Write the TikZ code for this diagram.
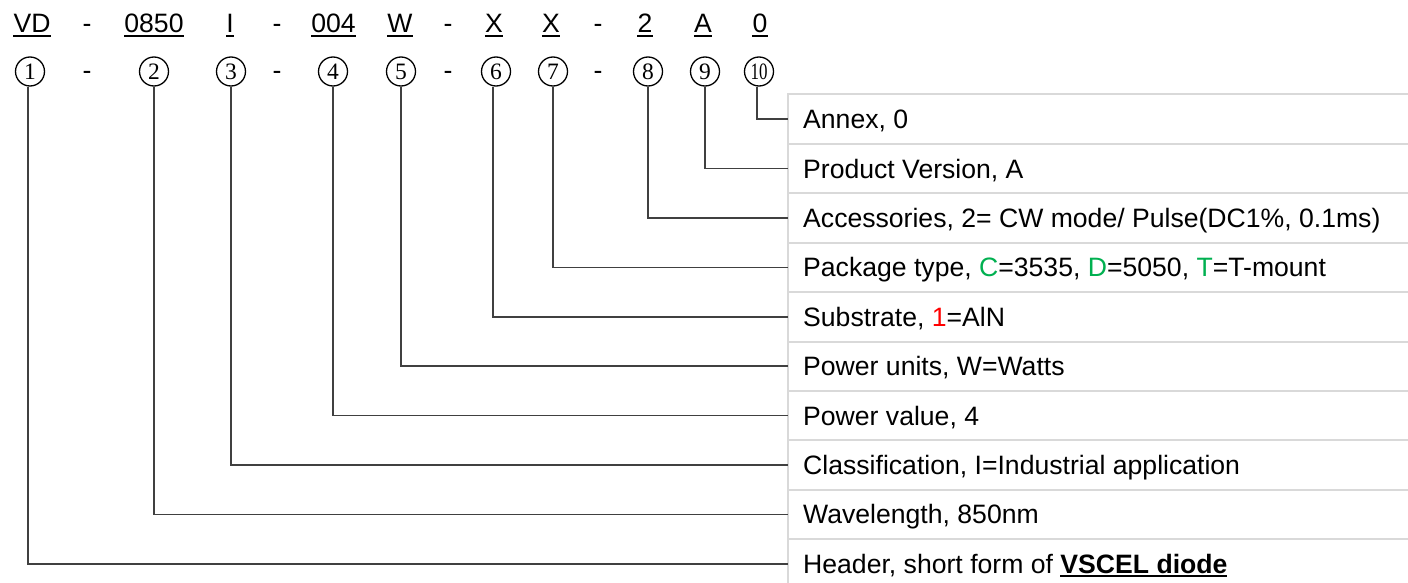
\documentclass[tikz,border=0pt]{standalone}
\usepackage{fontspec}
\newfontfamily\arialfont{Liberation Sans}
\newfontfamily\circfont{Liberation Serif}
\newcommand{\myulbox}[1]{\setbox0=\hbox{#1}\rlap{\vrule height -1.8pt depth 3.8pt width \wd0}\box0}
\definecolor{pkggreen}{HTML}{00B050}
\definecolor{gridgrey}{HTML}{D9D9D9}
\definecolor{leadergrey}{HTML}{404040}
\begin{document}
\begin{tikzpicture}[x=1pt,y=-1pt,
  txt/.style={font=\arialfont\fontsize{26.6}{30}\selectfont},
  code/.style={txt, inner sep=0pt, anchor=base},
  ulline/.style={draw=black, line width=2pt},
  numcirc/.style={circle, draw=black, line width=1.3pt, minimum size=29pt, inner sep=0pt,
                  font=\circfont\fontsize{23.5}{26}\selectfont},
  rowtext/.style={txt, anchor=west, inner xsep=15pt, inner ysep=0pt, text height=25pt, text depth=6pt},
  gridline/.style={draw=gridgrey, line width=2pt},
  leader/.style={draw=leadergrey, line width=1.6pt}]
\useasboundingbox (0,0) rectangle (1408,583);
\fill[white] (0,0) rectangle (1408,583);

% --- table grid ---
\foreach \i in {0,...,9} {
  \draw[gridline] (787,{94.5+49.4*\i}) -- (1410,{94.5+49.4*\i});
}
\draw[gridline] (788,93.5) -- (788,590);

% --- code row ---
\node[code] (k1) at (32,33) {VD};
\node[code] (d1) at (87,33) {-};
\node[code] (k2) at (154,33) {0850};
\node[code] (k3) at (230,33) {I};
\node[code] (d2) at (277,33) {-};
\node[code] (k4) at (333.5,33) {004};
\node[code] (k5) at (400,33) {W};
\node[code] (d3) at (448,33) {-};
\node[code] (k6) at (494,33) {X};
\node[code] (k7) at (551,33) {X};
\node[code] (d4) at (598,33) {-};
\node[code] (k8) at (645,33) {2};
\node[code] (k9) at (703,33) {A};
\node[code] (k10) at (760,33) {0};
\foreach \k in {k1,k2,k3,k4,k5,k6,k7,k8,k9,k10} {
  \draw[ulline] ([yshift=-2.8pt]\k.base west) -- ([yshift=-2.8pt]\k.base east);
}

% --- circled numbers ---
\node[numcirc] (c1) at (30,71.5) {1};
\node[code] (e1) at (87,80) {-};
\node[numcirc] (c2) at (154,71.5) {2};
\node[numcirc] (c3) at (231,71.5) {3};
\node[code] (e2) at (277,80) {-};
\node[numcirc] (c4) at (333,71.5) {4};
\node[numcirc] (c5) at (401,71.5) {5};
\node[code] (e3) at (448,80) {-};
\node[numcirc] (c6) at (496,71.5) {6};
\node[numcirc] (c7) at (553,71.5) {7};
\node[code] (e4) at (598,80) {-};
\node[numcirc] (c8) at (648,71.5) {8};
\node[numcirc] (c9) at (705,71.5) {9};
\node[numcirc] (c10) at (759,71.5) {\scalebox{0.72}[1]{10}};

% --- row texts ---
\node[rowtext] (r1) at (788,119.2) {Annex, 0};
\node[rowtext] (r2) at (788,168.6) {Product Version, A};
\node[rowtext] (r3) at (788,218.0) {Accessories, 2= CW mode/ Pulse(DC1\%, 0.1ms)};
\node[rowtext] (r4) at (788,267.4) {Package type, \textcolor{pkggreen}{C}=3535, \textcolor{pkggreen}{D}=5050, \textcolor{pkggreen}{T}=T-mount};
\node[rowtext] (r5) at (788,316.8) {Substrate, \textcolor{red}{1}=AlN};
\node[rowtext] (r6) at (788,366.2) {Power units, W=Watts};
\node[rowtext] (r7) at (788,415.6) {Power value, 4};
\node[rowtext] (r8) at (788,465.0) {Classification, I=Industrial application};
\node[rowtext] (r9) at (788,514.4) {Wavelength, 850nm};
\node[rowtext] (r10) at (788,563.8) {Header, short form of \myulbox{\bfseries VSCEL diode}};

% --- leaders ---
\draw[leader] ([xshift=-2pt]c1.south) |- (r10.west);
\draw[leader] (c2.south) |- (r9.west);
\draw[leader] (c3.south) |- (r8.west);
\draw[leader] (c4.south) |- (r7.west);
\draw[leader] (c5.south) |- (r6.west);
\draw[leader] ([xshift=-3pt]c6.south) |- (r5.west);
\draw[leader] (c7.south) |- (r4.west);
\draw[leader] (c8.south) |- (r3.west);
\draw[leader] (c9.south) |- (r2.west);
\draw[leader] ([xshift=-2pt]c10.south) |- (r1.west);
\end{tikzpicture}
\end{document}
